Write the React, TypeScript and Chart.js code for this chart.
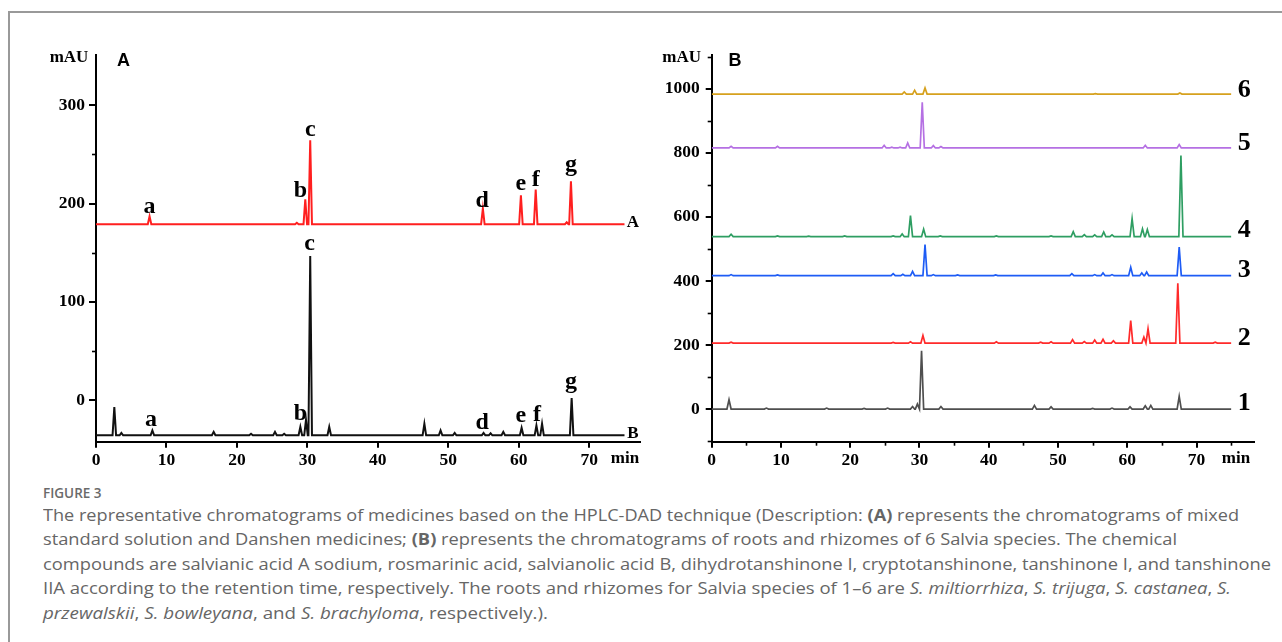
import React, { useEffect, useLayoutEffect, useRef } from 'react';
import { Chart, registerables } from 'chart.js';
Chart.register(...registerables);

const SERIF = '"Liberation Serif", "Times New Roman", serif';
const SANS = '"Liberation Sans", Arial, sans-serif';

// ---------------- Panel A (mixed standard A, Danshen medicine B) ----------------
const runEnd = 75; // min, end of each recorded trace
const aStdBase = 179;
const aStdTimes = [7.6, 28.5, 29.7, 30.4, 54.9, 60.3, 62.4, 66.8, 67.4];
const aStdHeights = [187, 180.5, 204.4, 264.4, 195, 208.5, 214.3, 181, 222.7];

const aMedBase = -35.5;
const aMedTimes = [2.6, 3.6, 8.0, 16.7, 22.0, 25.4, 26.7, 29.0, 29.8, 30.4, 33.1, 46.6, 48.9, 50.9, 55.0, 56.0, 57.8, 60.4, 62.5, 63.3, 67.5];
const aMedHeights = [-6.8, -33, -30.5, -32, -34, -32, -34, -27, -19.7, 146.8, -27, -23.7, -30.5, -33, -33, -33.5, -32, -28, -25.4, -23.7, 2.4];

const aYMajor = [0, 100, 200, 300];
const aYMinor = [50, 150, 250];
const aXMajor = [0, 10, 20, 30, 40, 50, 60, 70];

const aPeakLetters = ['a', 'b', 'c', 'd', 'e', 'f', 'g'];
const aStdLabelTimes = [7.6, 29.0, 30.4, 54.8, 60.3, 62.4, 67.4];
const aStdLabelValues = [190.2, 206.5, 268.4, 196.7, 213.6, 218.3, 233.4];
const aMedLabelTimes = [7.8, 29.0, 30.3, 54.8, 60.3, 62.6, 67.4];
const aMedLabelValues = [-26.4, -19.8, 152.5, -29, -22.4, -20.8, 12.7];
const aTraceNames = ['A', 'B'];
const aTraceNameTimes = [76.2, 76.2];
const aTraceNameValues = [176.4, -38.1];

// ---------------- Panel B (six Salvia species) ----------------
const s1Base = 0;
const s1Times = [2.5, 7.9, 16.6, 22.0, 25.4, 29.0, 29.7, 30.3, 33.1, 46.6, 49.0, 55.0, 57.8, 60.4, 62.6, 63.4, 67.5];
const s1Heights = [29, 3, 3, 2, 3, 8, 15.6, 182, 8, 11.5, 7, 2, 3, 7, 10, 11.5, 39.6];

const s2Base = 206;
const s2Times = [2.8, 26.2, 28.7, 30.5, 41.1, 47.5, 49.0, 52.1, 53.8, 55.3, 56.5, 58.0, 60.5, 62.4, 63.0, 67.3, 72.7];
const s2Heights = [209, 208, 210, 230, 210, 209, 210, 216.7, 211, 215.6, 217.7, 213.5, 276, 225, 251, 392.7, 209];

const s3Base = 416.7;
const s3Times = [2.8, 9.5, 26.2, 27.6, 29.0, 30.8, 32.0, 35.5, 41.0, 52.0, 55.3, 56.5, 57.8, 60.5, 62.1, 62.8, 67.5];
const s3Heights = [420, 419, 423, 421, 430, 513.5, 420, 419, 419, 423, 420, 425, 420, 442.7, 425, 428, 506];

const s4Base = 538.5;
const s4Times = [2.8, 9.5, 14.0, 19.2, 26.2, 27.5, 28.7, 30.6, 33.0, 41.1, 49.0, 52.2, 53.8, 55.3, 56.6, 57.8, 60.7, 62.2, 62.9, 67.75];
const s4Heights = [546, 541, 540, 541, 541, 547, 604, 562, 541, 541, 541, 554, 545, 544, 553, 544, 595, 563, 561, 792];

const s5Base = 815.6;
const s5Times = [2.8, 9.5, 24.9, 26.0, 27.2, 28.3, 30.4, 32.0, 33.1, 62.6, 67.5];
const s5Heights = [821, 821, 824, 818, 818, 831, 958, 823, 820, 824, 826];

const s6Base = 984;
const s6Times = [27.8, 29.3, 30.8, 55.4, 67.6];
const s6Heights = [990.6, 996, 1003, 985.5, 987.5];

const bYMajor = [0, 200, 400, 600, 800, 1000];
const bYMinor = [-100, 100, 300, 500, 700, 900, 1100];
const bXMajor = [0, 10, 20, 30, 40, 50, 60, 70];
const bXMinor = [5, 15, 25, 35, 45, 55, 65, 75];

const bTraceNames = ['1', '2', '3', '4', '5', '6'];
const bTraceNameTimes = [76.9, 76.9, 76.9, 76.9, 76.9, 76.9];
const bTraceNameValues = [-2, 201, 413.6, 538.6, 810.5, 976];

// -------------------------------------------------------------------------------

type Pt = { x: number; y: number };
function buildTrace(base: number, times: number[], heights: number[], half: number): Pt[] {
  const pts: Pt[] = [{ x: 0, y: base }];
  times.forEach((t, i) => {
    pts.push({ x: t - half, y: base }, { x: t, y: heights[i] }, { x: t + half, y: base });
  });
  pts.push({ x: runEnd, y: base });
  return pts;
}

type TextItem = { text: string; t: number; v: number; size: number };

type PanelCfg = {
  width: number;
  height: number;
  axisLeft: number;
  axisRight: number;
  axisTop: number;
  axisBottom: number;
  xMax: number;
  yMin: number;
  yMax: number;
  xMajor: number[];
  xMinor: number[];
  yMajor: number[];
  yMinor: number[];
  yTickLen: number;
  yTickPad: number;
  lineWidth: number;
  traces: { data: Pt[]; color: string }[];
  texts: TextItem[];
  panelLetter: string;
  panelDx: number;
  mauDx: number;
  minDx: number;
};

function overlayPlugin(p: PanelCfg) {
  return {
    id: 'overlay',
    afterDraw(chart: any) {
      const ctx = chart.ctx;
      const xs = chart.scales.x;
      const ys = chart.scales.y;
      const area = chart.chartArea;
      ctx.save();
      ctx.strokeStyle = '#000';
      ctx.lineWidth = 1.6;
      p.yMinor.forEach((v) => {
        const y = Math.round(ys.getPixelForValue(v)) + 0.5;
        ctx.beginPath();
        ctx.moveTo(area.left, y);
        ctx.lineTo(area.left - 4, y);
        ctx.stroke();
      });
      p.xMinor.forEach((v) => {
        const x = Math.round(xs.getPixelForValue(v)) + 0.5;
        ctx.beginPath();
        ctx.moveTo(x, area.bottom);
        ctx.lineTo(x, area.bottom + 4);
        ctx.stroke();
      });
      ctx.fillStyle = '#000';
      ctx.textAlign = 'center';
      ctx.textBaseline = 'alphabetic';
      p.texts.forEach((it) => {
        ctx.font = `bold ${it.size}px ${SERIF}`;
        ctx.fillText(it.text, xs.getPixelForValue(it.t), ys.getPixelForValue(it.v));
      });
      ctx.textBaseline = 'middle';
      ctx.font = `bold 17px ${SERIF}`;
      ctx.fillText('mAU', area.left + p.mauDx, area.top + 3);
      ctx.fillText('min', area.right + p.minDx, area.bottom + 17);
      ctx.font = `bold 18px ${SANS}`;
      ctx.fillText(p.panelLetter, area.left + p.panelDx, area.top + 6);
      ctx.restore();
    },
  };
}

function Panel({ p, left }: { p: PanelCfg; left: number }) {
  const ref = useRef<HTMLCanvasElement>(null);
  useEffect(() => {
    const canvas = ref.current;
    if (!canvas) return;
    const tickFont = { family: SERIF, size: 17.5, weight: 'bold' as const };
    const chart = new Chart(canvas, {
      type: 'line',
      data: {
        datasets: p.traces.map((tr) => ({
          data: tr.data,
          borderColor: tr.color,
          borderWidth: p.lineWidth,
          pointRadius: 0,
          tension: 0,
          fill: false,
        })),
      },
      options: {
        animation: false,
        responsive: false,
        maintainAspectRatio: false,
        events: [],
        layout: {
          padding: { left: 0, right: p.width - p.axisRight, top: p.axisTop, bottom: 0 },
        },
        plugins: { legend: { display: false }, tooltip: { enabled: false } },
        scales: {
          x: {
            type: 'linear',
            min: 0,
            max: p.xMax,
            afterBuildTicks: (s: any) => {
              s.ticks = p.xMajor.map((v) => ({ value: v }));
            },
            afterFit: (s: any) => {
              s.height = p.height - p.axisBottom;
            },
            grid: { display: true, drawOnChartArea: false, drawTicks: true, tickLength: 6, color: '#000', lineWidth: 2 },
            border: { display: true, color: '#000', width: 2 },
            ticks: {
              font: tickFont,
              color: '#000',
              padding: 2,
              maxRotation: 0,
              autoSkip: false,
              callback: (v: any) => String(v),
            },
          },
          y: {
            type: 'linear',
            min: p.yMin,
            max: p.yMax,
            afterBuildTicks: (s: any) => {
              s.ticks = p.yMajor.map((v) => ({ value: v }));
            },
            afterFit: (s: any) => {
              s.width = p.axisLeft;
            },
            grid: { display: true, drawOnChartArea: false, drawTicks: true, tickLength: p.yTickLen, color: '#000', lineWidth: 2 },
            border: { display: true, color: '#000', width: 2 },
            ticks: {
              font: tickFont,
              color: '#000',
              padding: p.yTickPad,
              autoSkip: false,
              callback: (v: any) => String(v),
            },
          },
        },
      },
      plugins: [overlayPlugin(p)],
    } as any);
    return () => chart.destroy();
  }, [p]);
  return (
    <canvas
      ref={ref}
      width={p.width}
      height={p.height}
      style={{ position: 'absolute', left, top: 0, width: p.width, height: p.height }}
    />
  );
}

const letterItems = (times: number[], values: number[]): TextItem[] =>
  aPeakLetters.map((s, i) => ({ text: s, t: times[i], v: values[i], size: 24 }));

const panelA: PanelCfg = {
  width: 660,
  height: 480,
  axisLeft: 96,
  axisRight: 640,
  axisTop: 55,
  axisBottom: 441.7,
  xMax: 77.2,
  yMin: -42,
  yMax: 351,
  xMajor: aXMajor,
  xMinor: [],
  yMajor: aYMajor,
  yMinor: aYMinor,
  yTickLen: 7,
  yTickPad: 4,
  lineWidth: 2,
  traces: [
    { data: buildTrace(aStdBase, aStdTimes, aStdHeights, 0.25), color: '#ff1f1f' },
    { data: buildTrace(aMedBase, aMedTimes, aMedHeights, 0.25), color: '#111111' },
  ],
  texts: [
    ...letterItems(aStdLabelTimes, aStdLabelValues),
    ...letterItems(aMedLabelTimes, aMedLabelValues),
    ...aTraceNames.map((s, i) => ({ text: s, t: aTraceNameTimes[i], v: aTraceNameValues[i], size: 17 })),
  ],
  panelLetter: 'A',
  panelDx: 27.5,
  mauDx: -27,
  minDx: -15,
};

const panelB: PanelCfg = {
  width: 622,
  height: 480,
  axisLeft: 51.7,
  axisRight: 594,
  axisTop: 55,
  axisBottom: 441.7,
  xMax: 78.3,
  yMin: -102,
  yMax: 1106,
  xMajor: bXMajor,
  xMinor: bXMinor,
  yMajor: bYMajor,
  yMinor: bYMinor,
  yTickLen: 6,
  yTickPad: 6,
  lineWidth: 1.7,
  traces: [
    { data: buildTrace(s1Base, s1Times, s1Heights, 0.3), color: '#4f4f4f' },
    { data: buildTrace(s2Base, s2Times, s2Heights, 0.3), color: '#ff2a2a' },
    { data: buildTrace(s3Base, s3Times, s3Heights, 0.3), color: '#1e5cf5' },
    { data: buildTrace(s4Base, s4Times, s4Heights, 0.3), color: '#2e9e62' },
    { data: buildTrace(s5Base, s5Times, s5Heights, 0.3), color: '#b570e3' },
    { data: buildTrace(s6Base, s6Times, s6Heights, 0.3), color: '#d6a11e' },
  ],
  texts: bTraceNames.map((s, i) => ({ text: s, t: bTraceNameTimes[i], v: bTraceNameValues[i], size: 26 })),
  panelLetter: 'B',
  panelDx: 23.3,
  mauDx: -30,
  minDx: -18,
};

const CAPTION_FONT = '"Open Sans", "Noto Sans", sans-serif';

function FitLine({ top, target, children }: { top: number; target: number; children: React.ReactNode }) {
  const ref = useRef<HTMLDivElement>(null);
  useLayoutEffect(() => {
    const el = ref.current;
    if (!el) return;
    el.style.transform = 'none';
    const w = el.getBoundingClientRect().width;
    if (w > 0) el.style.transform = `scaleX(${target / w})`;
  }, [target]);
  return (
    <div
      ref={ref}
      style={{
        position: 'absolute',
        left: 43,
        top,
        whiteSpace: 'nowrap',
        transformOrigin: '0 0',
        fontFamily: CAPTION_FONT,
        fontSize: 16.5,
        lineHeight: '22px',
        color: '#666',
      }}
    >
      {children}
    </div>
  );
}

export default function App() {
  return (
    <div
      style={{
        position: 'absolute',
        left: 0,
        top: 0,
        width: 1282,
        height: 642,
        overflow: 'hidden',
        background: '#fff',
      }}
    >
      <div
        style={{
          position: 'absolute',
          left: 8,
          top: 11,
          width: 1400,
          height: 800,
          border: '2px solid #999',
          boxSizing: 'border-box',
        }}
      />
      <Panel p={panelA} left={0} />
      <Panel p={panelB} left={660} />
      <div
        style={{
          position: 'absolute',
          left: 43,
          top: 483,
          fontFamily: CAPTION_FONT,
          fontSize: 13.5,
          fontWeight: 600,
          lineHeight: '20px',
          color: '#6a6a6a',
        }}
      >
        FIGURE 3
      </div>
      <FitLine top={503.5} target={1196}>
        The representative chromatograms of medicines based on the HPLC-DAD technique (Description: <b>(A)</b> represents the chromatograms of mixed
      </FitLine>
      <FitLine top={528.1} target={1134}>
        standard solution and Danshen medicines; <b>(B)</b> represents the chromatograms of roots and rhizomes of 6 Salvia species. The chemical
      </FitLine>
      <FitLine top={552.7} target={1228}>
        compounds are salvianic acid A sodium, rosmarinic acid, salvianolic acid B, dihydrotanshinone I, cryptotanshinone, tanshinone I, and tanshinone
      </FitLine>
      <FitLine top={577.3} target={1188}>
        IIA according to the retention time, respectively. The roots and rhizomes for Salvia species of 1–6 are <i>S. miltiorrhiza</i>, <i>S. trijuga</i>, <i>S. castanea</i>, <i>S.</i>
      </FitLine>
      <FitLine top={601.9} target={505}>
        <i>przewalskii</i>, <i>S. bowleyana</i>, and <i>S. brachyloma</i>, respectively.).
      </FitLine>
    </div>
  );
}
